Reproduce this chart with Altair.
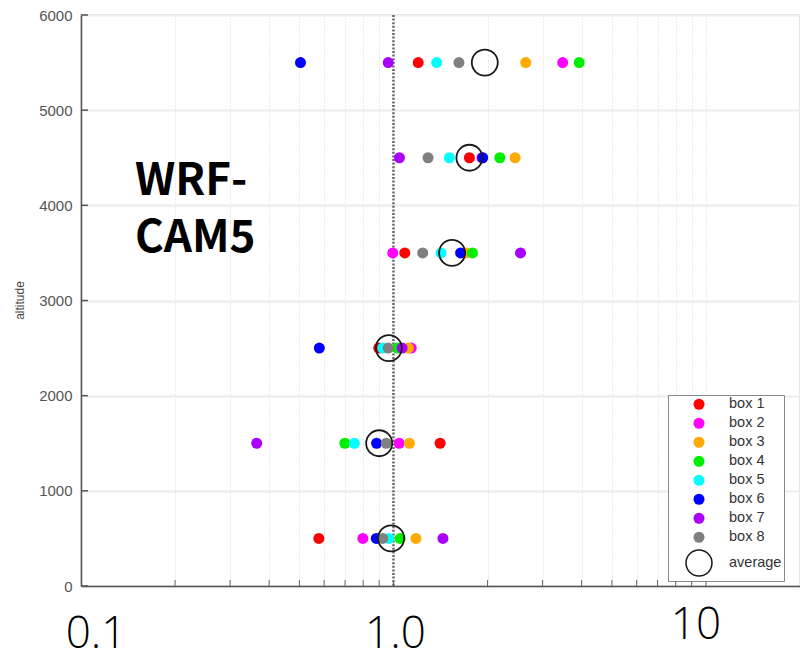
import altair as alt
import pandas as pd

altitudes = [5500, 4500, 3500, 2500, 1500, 500]
series_names = ["box 1", "box 2", "box 3", "box 4", "box 5", "box 6", "box 7", "box 8", "average"]
box1 = [1.20, 1.75, 1.087, 0.897, 1.41, 0.577]
box2 = [3.48, 1.92, 0.995, 1.14, 1.043, 0.798]
box3 = [2.65, 2.45, 1.71, 1.117, 1.125, 1.18]
box4 = [3.93, 2.19, 1.79, 1.03, 0.699, 1.05]
box5 = [1.375, 1.51, 1.42, 0.924, 0.750, 0.966]
box6 = [0.504, 1.93, 1.64, 0.579, 0.883, 0.881]
box7 = [0.962, 1.045, 2.55, 1.066, 0.365, 1.44]
box8 = [1.62, 1.29, 1.24, 0.962, 0.948, 0.924]
average = [1.96, 1.75, 1.54, 0.966, 0.90, 0.983]

fill_colors = ["#ff0000", "#ff00ff", "#ffaa00", "#00ee00", "#00ffff", "#0000ff", "#aa00ff", "#808080", "transparent"]
stroke_colors = ["transparent"] * 8 + ["#1a1a1a"]
sizes = [121] * 8 + [676]

x_grid_values = [0.2, 0.3, 0.4, 0.5, 0.6, 0.7, 0.8, 0.9, 2, 3, 4, 5, 6, 7, 8, 9, 10]
x_tick_values = [0.2, 0.3, 0.4, 0.5, 0.6, 0.7, 0.8, 0.9, 1, 2, 3, 4, 5, 6, 7, 8, 9, 10]
y_tick_values = [0, 1000, 2000, 3000, 4000, 5000, 6000]
big_labels = ["0.1", "1.0", "10"]
big_label_values = [0.1, 1.0, 10]

all_series = [box1, box2, box3, box4, box5, box6, box7, box8, average]
rows = []
for name, vals in zip(series_names, all_series):
    for a, v in zip(altitudes, vals):
        rows.append({"series": name, "ratio": v, "altitude": a})
df = pd.DataFrame(rows)

xscale = alt.Scale(type="log", domain=[0.1, 20], nice=False)
yscale = alt.Scale(domain=[0, 6000], nice=False)

x_axis = alt.Axis(values=x_grid_values, labels=False, ticks=False, title=None,
                  domainColor="#555555", domainWidth=1.5,
                  grid=True, gridDash=[1, 2], gridColor="#d6d6d6", gridWidth=1)
y_axis = alt.Axis(values=y_tick_values, format="d", ticks=False, labelPadding=9, labelFontSize=15,
                  labelColor="#555555", labelFont="Liberation Sans",
                  domainColor="#555555", domainWidth=1.5,
                  grid=True, gridColor="#ececec", gridWidth=2,
                  title="altitude", titleFontSize=12, titleFontWeight="normal",
                  titleColor="#444444", titleFont="Liberation Sans",
                  titleX=-55, titleY=285)

points = alt.Chart(df).mark_point(opacity=1, strokeWidth=1.8).encode(
    x=alt.X("ratio:Q", scale=xscale, axis=x_axis),
    y=alt.Y("altitude:Q", scale=yscale, axis=y_axis),
    fill=alt.Fill("series:N", scale=alt.Scale(domain=series_names, range=fill_colors),
                  legend=alt.Legend(title=None)),
    stroke=alt.Stroke("series:N", scale=alt.Scale(domain=series_names, range=stroke_colors),
                      legend=alt.Legend(title=None)),
    size=alt.Size("series:N", scale=alt.Scale(type="ordinal", domain=series_names, range=sizes),
                  legend=alt.Legend(title=None)),
)

one_df = pd.DataFrame({"v": [1.0]})
ref_line = alt.Chart(one_df).mark_rule(strokeDash=[2, 1.6], strokeWidth=2.5, color="#666666").encode(
    x=alt.X("v:Q", scale=xscale, axis=x_axis)
)

ytick_df = pd.DataFrame({"altitude": y_tick_values})
yticks = alt.Chart(ytick_df).mark_tick(orient="horizontal", size=7, thickness=1.5,
                                       color="#555555", opacity=1).encode(
    x=alt.value(3.5),
    y=alt.Y("altitude:Q", scale=yscale, axis=y_axis),
)

xtick_df = pd.DataFrame({"v": x_tick_values})
xticks = alt.Chart(xtick_df).mark_tick(orient="vertical", size=6, thickness=1,
                                       color="#666666", opacity=1).encode(
    x=alt.X("v:Q", scale=xscale, axis=x_axis),
    y=alt.value(568),
)

label_layers = []
label_dx = [15, 2, -10]
label_y = [633, 633, 624]
for lab, val, dx, yy in zip(big_labels, big_label_values, label_dx, label_y):
    ldf = pd.DataFrame({"v": [val], "t": [lab]})
    label_layers.append(
        alt.Chart(ldf).mark_text(font="Open Sans", fontSize=44, fontWeight=300, color="#000000",
                                 align="center", baseline="alphabetic", dx=dx).encode(
            x=alt.X("v:Q", scale=xscale, axis=x_axis),
            y=alt.value(yy),
            text="t:N",
        )
    )

model_df = pd.DataFrame({"t": ["WRF-\nCAM5"]})
model_text = alt.Chart(model_df).mark_text(font="Noto Sans CJK SC", fontSize=44, fontWeight="bold",
                                           color="#000000", align="left", baseline="alphabetic",
                                           lineBreak="\n", lineHeight=57).encode(
    x=alt.value(54), y=alt.value(180), text="t:N"
)

chart = alt.layer(ref_line, xticks, yticks, points, model_text, *label_layers).properties(
    width=719, height=571,
    autosize=alt.AutoSizeParams(type="none"),
    padding={"left": 81, "top": 15, "right": 0, "bottom": 73},
).configure_view(
    stroke="#e4e4e4", strokeWidth=2
).configure_legend(
    orient="none", legendX=587, legendY=380,
    strokeColor="#888888", fillColor="#ffffff", padding=2,
    labelFont="Liberation Sans", labelFontSize=14.5, labelColor="#333333",
    rowPadding=1, labelOffset=16, symbolOffset=15
)

chart.save("out.html", embed_options={"renderer": "svg", "actions": False})
